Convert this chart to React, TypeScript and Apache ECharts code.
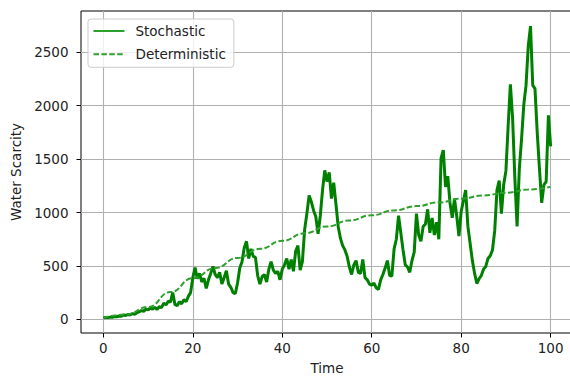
import React, { useEffect, useRef } from "react";
import * as echarts from "echarts";

// Stochastic path, sampled every 0.5 time units from t = 0 to t = 100
const STOCH_STEP = 0.5;
const stochValues = [
  15, 18, 16, 21, 19, 26, 24, 31, 29, 40,
  36, 46, 42, 53, 47, 62, 70, 82, 74, 95,
  88, 108, 96, 112, 92, 118, 110, 152, 135, 170,
  160, 250, 140, 128, 165, 145, 185, 165, 215, 250,
  390, 485, 380, 430, 350, 385, 290, 370, 430, 495,
  420, 390, 440, 330, 390, 455, 330, 300, 250, 240,
  340, 480, 540, 670, 730, 570, 660, 590, 580, 410,
  330, 400, 420, 350, 470, 540, 460, 430, 450, 370,
  470, 510, 570, 470, 560, 450, 640, 690, 460, 540,
  840, 990, 1160, 1100, 1020, 960, 800, 970, 1210, 1395,
  1290, 1375, 1130, 1280, 1080, 870, 760, 690, 650, 590,
  490, 420, 510, 550, 440, 430, 560, 390, 370, 330,
  320, 340, 295, 280, 370, 420, 480, 550, 410, 405,
  660, 750, 970, 810, 650, 510, 490, 440, 550, 630,
  990, 790, 730, 870, 890, 1030, 810, 950, 790, 910,
  750, 1510, 1585, 1240, 1340, 1090, 950, 1130, 970, 780,
  1010, 1110, 1210, 870, 710, 550, 430, 335, 380, 410,
  470, 495, 570, 595, 650, 830, 1210, 1300, 990, 1260,
  1390, 1810, 2200, 1880, 1320, 870, 1410, 1690, 2010, 2190,
  2560, 2745, 2190, 2160, 1750, 1410, 1090, 1260, 1290, 1910,
  1620,
];

// Deterministic curve
const detTimes = [0, 5, 10, 15, 20, 25, 30, 35, 40, 45, 50, 55, 60, 65, 70, 75, 80, 85, 90, 95, 100];
const detValues = [15, 45, 115, 255, 385, 480, 575, 660, 735, 805, 870, 925, 975, 1020, 1060, 1095, 1130, 1160, 1185, 1215, 1240];

const xTicks = [0, 20, 40, 60, 80, 100];
const yTicks = [0, 500, 1000, 1500, 2000, 2500];

const FONT = "DejaVu Sans";
const TEXT = "#222";

export default function App() {
  const ref = useRef<HTMLDivElement>(null);
  useEffect(() => {
    if (!ref.current) return;
    const chart = echarts.init(ref.current, undefined, { renderer: "svg" });
    const stochData = stochValues.map((v, i) => [i * STOCH_STEP, v]);
    const detData = detTimes.map((t, i) => [t, detValues[i]]);
    chart.setOption({
      animation: false,
      backgroundColor: "#fff",
      grid: {
        left: 81,
        top: 11,
        width: 492,
        height: 322,
        containLabel: false,
        outerBoundsMode: "none",
        show: true,
        borderColor: "#000",
        borderWidth: 1,
        backgroundColor: "transparent",
      },
      legend: {
        orient: "vertical",
        left: 88,
        top: 19,
        padding: [5, 8, 6, 4.5],
        itemWidth: 31,
        itemHeight: 14,
        itemGap: 9.3,
        borderColor: "#cccccc",
        borderWidth: 1,
        borderRadius: 3,
        backgroundColor: "rgba(255,255,255,0.8)",
        itemStyle: { opacity: 0 },
        textStyle: { fontFamily: FONT, fontSize: 13.5, color: TEXT, padding: [0, 0, 0, 6] },
        data: [
          { name: "Stochastic", lineStyle: { color: "#2ca02c", width: 2 } },
          { name: "Deterministic", lineStyle: { color: "#2ca02c", width: 2 } },
        ],
      },
      xAxis: {
        type: "value",
        min: -5,
        max: 105,
        name: "Time",
        nameLocation: "middle",
        nameGap: 28,
        nameTextStyle: { fontFamily: FONT, fontSize: 13.5, color: TEXT },
        axisLine: { show: false, onZero: false },
        axisTick: { show: true, length: 4.5, customValues: xTicks, lineStyle: { color: "#000", width: 1 } },
        axisLabel: {
          customValues: xTicks,
          margin: 7.5,
          fontFamily: FONT,
          fontSize: 13.5,
          color: TEXT,
          formatter: (v: number) => String(v),
        },
        splitLine: { show: true, lineStyle: { color: "#b0b0b0", width: 1.1 } },
      },
      yAxis: {
        type: "value",
        min: -128,
        max: 2887,
        name: "Water Scarcity",
        nameLocation: "middle",
        nameGap: 58,
        nameTextStyle: { fontFamily: FONT, fontSize: 13.5, color: TEXT },
        axisLine: { show: false, onZero: false },
        axisTick: { show: true, length: 4.5, customValues: yTicks, lineStyle: { color: "#000", width: 1 } },
        axisLabel: {
          customValues: yTicks,
          margin: 12.5,
          fontFamily: FONT,
          fontSize: 13.5,
          color: TEXT,
          formatter: (v: number) => String(v),
        },
        splitLine: { show: true, lineStyle: { color: "#b0b0b0", width: 1.1 } },
      },
      series: [
        {
          name: "Stochastic",
          type: "line",
          data: stochData,
          symbol: "none",
          showSymbol: false,
          lineStyle: { color: "#008000", width: 3 },
          itemStyle: { color: "#008000" },
          z: 3,
        },
        {
          name: "Deterministic",
          type: "line",
          data: detData,
          symbol: "none",
          showSymbol: false,
          smooth: true,
          smoothMonotone: "x",
          lineStyle: { color: "#2ca02c", width: 2, type: [5.5, 2.4] },
          itemStyle: { color: "#2ca02c" },
          z: 4,
        },
      ],
    });
    return () => chart.dispose();
  }, []);
  return (
    <div
      ref={ref}
      style={{ position: "absolute", left: 0, top: 0, width: 570, height: 377 }}
    />
  );
}
